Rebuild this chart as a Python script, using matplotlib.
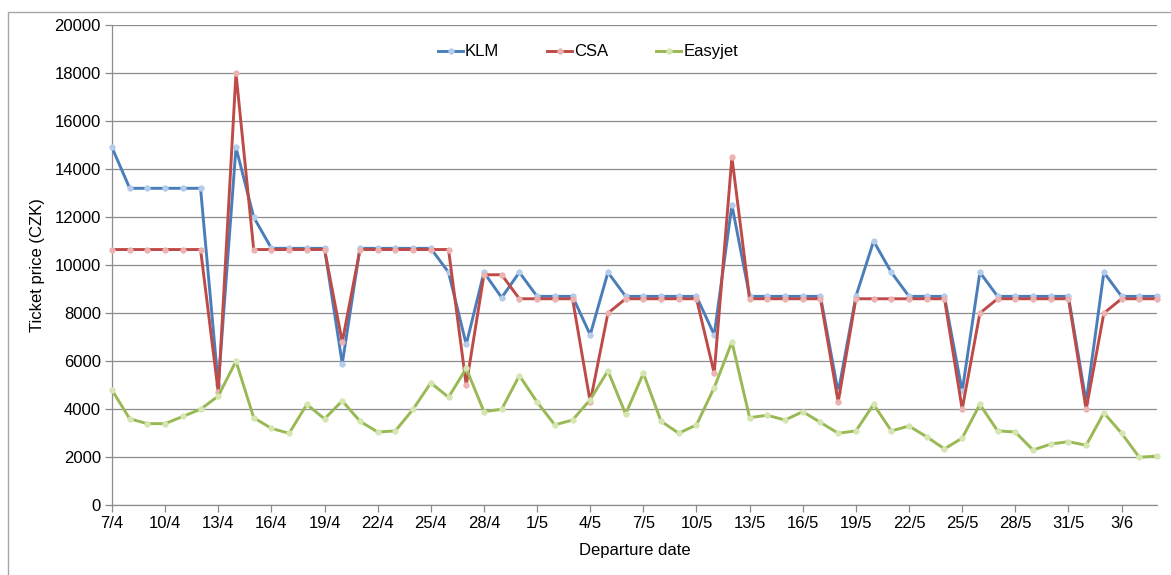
import numpy as np
import pandas as pd
import matplotlib
matplotlib.use("Agg")
import matplotlib.pyplot as plt
from matplotlib.patches import Rectangle

plt.rcParams['font.family'] = ['Liberation Sans', 'DejaVu Sans']

# ---- data ----
departure = pd.date_range("2011-04-07", "2011-06-05", freq="D")

klm = [14900, 13200, 13200, 13200, 13200, 13200, 5000, 14900, 12000, 10700,
       10700, 10700, 10700, 5900, 10700, 10700, 10700, 10700, 10700, 9700,
       6700, 9700, 8650, 9700, 8700, 8700, 8700, 7100, 9700, 8700,
       8700, 8700, 8700, 8700, 7100, 12500, 8700, 8700, 8700, 8700,
       8700, 4700, 8700, 11000, 9700, 8700, 8700, 8700, 4750, 9700,
       8700, 8700, 8700, 8700, 8700, 4300, 9700, 8700, 8700, 8700]

csa = [10650, 10650, 10650, 10650, 10650, 10650, 4700, 18000, 10650, 10650,
       10650, 10650, 10650, 6800, 10650, 10650, 10650, 10650, 10650, 10650,
       5000, 9600, 9600, 8600, 8600, 8600, 8600, 4300, 8000, 8600,
       8600, 8600, 8600, 8600, 5500, 14500, 8600, 8600, 8600, 8600,
       8600, 4300, 8600, 8600, 8600, 8600, 8600, 8600, 4000, 8000,
       8600, 8600, 8600, 8600, 8600, 4000, 8000, 8600, 8600, 8600]

easyjet = [4800, 3600, 3400, 3400, 3700, 4000, 4550, 6000, 3650, 3200,
           3000, 4200, 3600, 4350, 3500, 3050, 3100, 4000, 5100, 4500,
           5700, 3900, 4000, 5400, 4300, 3350, 3550, 4400, 5600, 3800,
           5500, 3500, 3000, 3350, 4900, 6800, 3650, 3750, 3550, 3900,
           3450, 3000, 3100, 4200, 3100, 3300, 2850, 2350, 2800, 4200,
           3100, 3050, 2300, 2550, 2650, 2500, 3850, 3000, 2000, 2050]

series_names = ["KLM", "CSA", "Easyjet"]
y_ticks = list(range(0, 20001, 2000))

# ---- styles ----
colors = ["#4A7EBB", "#BE4B48", "#98B954"]
marker_faces = ["#B5CCEA", "#EBB3B1", "#D5E6B2"]
FS = 12

W, H = 1171, 575
fig = plt.figure(figsize=(W / 100, H / 100), dpi=100)
fig.patch.set_facecolor("white")

# outer chart border (cut at right and bottom)
fig.patches.append(Rectangle((8 / W, -0.02), 1.05, 1 - 12 / H + 0.02,
                             transform=fig.transFigure, fill=False,
                             edgecolor="#A6A6A6", linewidth=1.0, zorder=0))

ax = fig.add_axes([112 / W, 1 - 505.3 / H, (1157 - 112) / W, (505.3 - 25) / H])

x = np.arange(len(departure))
for vals, name, c, mf in zip([klm, csa, easyjet], series_names, colors, marker_faces):
    ax.plot(x, vals, color=c, linewidth=2.1, marker="o", markersize=4,
            markerfacecolor=mf, markeredgecolor=mf, markeredgewidth=0.5,
            label=name, zorder=3, clip_on=False)

ax.set_xlim(0, len(departure) - 1)
ax.set_ylim(0, 20000)
ax.set_yticks(y_ticks)
ax.set_yticklabels([str(v) for v in y_ticks], fontsize=FS)

tick_idx = list(range(0, len(departure), 3))[:20]
ax.set_xticks(tick_idx)
ax.set_xticklabels([f"{departure[i].day}/{departure[i].month}" for i in tick_idx], fontsize=FS)

grid_c = "#8C8C8C"
ax.grid(axis="y", color=grid_c, linewidth=0.9)
ax.set_axisbelow(True)
for s in ["top", "right"]:
    ax.spines[s].set_visible(False)
for s in ["left", "bottom"]:
    ax.spines[s].set_color(grid_c)
    ax.spines[s].set_linewidth(0.9)
ax.tick_params(axis="both", direction="out", length=5, width=0.9, color=grid_c,
               labelcolor="black", pad=3)

ax.set_ylabel("Ticket price (CZK)", fontsize=FS)
ax.yaxis.set_label_coords(-0.064, 0.5)
ax.set_xlabel("Departure date", fontsize=FS)
ax.xaxis.set_label_coords(0.5, -0.078)

leg = ax.legend(loc="center", bbox_to_anchor=(0.4555, 0.944), ncol=3, frameon=False,
                fontsize=FS, handlelength=1.5, handletextpad=0.1, columnspacing=2.9)

fig.savefig("out.png", dpi=100, facecolor="white")
